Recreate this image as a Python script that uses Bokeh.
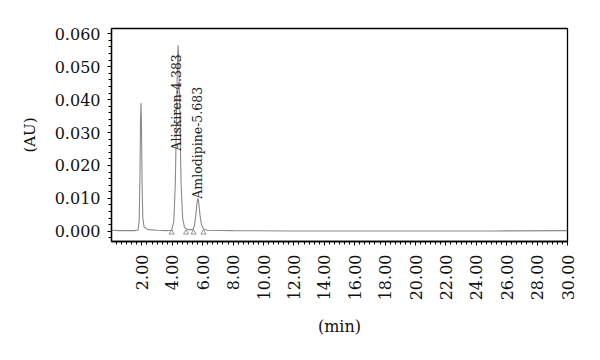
import numpy as np
from bokeh.plotting import figure
from bokeh.models import Range1d, FixedTicker, SingleIntervalTicker, PrintfTickFormatter, ColumnDataSource
from bokeh.core.properties import value
from bokeh.embed import file_html
from bokeh.resources import INLINE

# Chromatogram trace (time in min, absorbance in AU)
time_min = [0.0, 0.5, 1.0, 1.5, 1.75, 1.82, 1.87, 1.91, 1.94, 1.97, 2.01, 2.06, 2.15, 2.4, 3.0,
            3.6, 3.95, 4.1, 4.2, 4.28, 4.34, 4.383, 4.43, 4.5, 4.58, 4.68, 4.8, 5.0,
            5.35, 5.45, 5.55, 5.62, 5.683, 5.74, 5.82, 5.92, 6.05, 6.3,
            8.0, 12.0, 16.0, 20.0, 25.0, 30.0]
absorb_au = [0.0003, 0.0002, 0.0002, 0.0002, 0.0004, 0.003, 0.016, 0.034, 0.039, 0.033, 0.015, 0.004, 0.0012, 0.0005, 0.0003,
             0.0002, 0.0003, 0.003, 0.015, 0.036, 0.052, 0.0565, 0.052, 0.034, 0.014, 0.004, 0.0012, 0.0005,
             0.0005, 0.0015, 0.005, 0.0085, 0.0100, 0.0088, 0.005, 0.002, 0.0007, 0.0003,
             0.0002, 0.0001, 0.0001, 0.0001, 0.0001, 0.0002]

# Integration event markers
event_times = [3.96, 4.90, 5.40, 6.05]
event_level = [-0.0004, -0.0004, -0.0004, -0.0004]

# Peak labels
peak_names = ["Aliskiren-4.383", "Amlodipine-5.683"]
label_x = [4.30, 5.63]
label_y = [0.0245, 0.0099]

x_ticks = [2, 4, 6, 8, 10, 12, 14, 16, 18, 20, 22, 24, 26, 28, 30]

FONT = "DejaVu Serif"

p = figure(width=592, height=352, output_backend="svg", toolbar_location=None,
           x_range=Range1d(0, 30), y_range=Range1d(-0.0031, 0.0616),
           min_border_left=111, min_border_right=25, min_border_top=28, min_border_bottom=111)

p.xgrid.visible = False
p.ygrid.visible = False
p.outline_line_color = "black"
p.outline_line_width = 1.3
p.background_fill_color = "white"
p.border_fill_color = "white"

p.line(time_min, absorb_au, line_color="#8a8a8a", line_width=1.1)
p.scatter(event_times, event_level, marker="triangle", size=5,
          fill_color=None, line_color="#777777", line_width=0.8)

src = ColumnDataSource(dict(x=label_x, y=label_y, t=peak_names))
p.text(x="x", y="y", text="t", source=src, angle=np.pi / 2,
       text_align="left", text_baseline="middle",
       text_font=value(FONT), text_font_size="12.5px", text_color="#222222")

# x axis
xa = p.xaxis[0]
minor = [float(v) for v in np.arange(0, 30.001, 1 / 3) if abs(v / 2 - round(v / 2)) > 1e-6]
xa.ticker = FixedTicker(ticks=x_ticks, minor_ticks=minor)
xa.formatter = PrintfTickFormatter(format="%.2f")
xa.major_label_orientation = np.pi / 2
xa.axis_label = "(min)"

# y axis
ya = p.yaxis[0]
ya.ticker = SingleIntervalTicker(interval=0.01, num_minor_ticks=5)
ya.formatter = PrintfTickFormatter(format="%.3f")
ya.axis_label = "(AU)"

for ax in (xa, ya):
    ax.axis_line_color = "black"
    ax.axis_line_width = 1.3
    ax.major_tick_line_color = "black"
    ax.minor_tick_line_color = "black"
    ax.major_tick_out = 4
    ax.major_tick_in = 0
    ax.minor_tick_out = 3
    ax.minor_tick_in = 0
    ax.major_label_text_font = FONT
    ax.major_label_text_font_size = "16px"
    ax.major_label_text_color = "#111111"
    ax.axis_label_text_font = FONT
    ax.axis_label_text_font_style = "normal"
    ax.axis_label_text_color = "#111111"

xa.major_label_standoff = 9
xa.axis_label_standoff = 14
xa.axis_label_text_font_size = "16px"
ya.major_label_standoff = 7
ya.axis_label_standoff = 13
ya.axis_label_text_font_size = "15px"

open("out.html", "w").write(file_html(p, INLINE))
